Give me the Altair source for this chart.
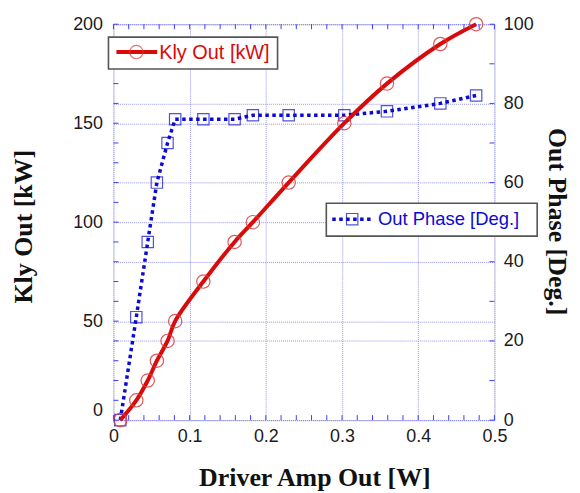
import altair as alt
import pandas as pd

# ---- data ----
drive_w = [0.009, 0.030, 0.045, 0.057, 0.071, 0.081, 0.118, 0.159, 0.183, 0.230, 0.303, 0.359, 0.429, 0.476]
kly_kw = [0, 10, 20, 30, 40, 50, 70, 90, 100, 120, 150, 170, 190, 200]
phase_deg = [0, 26, 45, 60, 70, 76, 76, 76, 77, 77, 77, 78, 80, 82]

x_labels = [0, 0.1, 0.2, 0.3, 0.4, 0.5]
kw_labels = [0, 50, 100, 150, 200]
deg_labels = [0, 20, 40, 60, 80, 100]
x_minor = [round(i * 0.02, 2) for i in range(26)]
kw_minor = list(range(0, 201, 10))
deg_minor = list(range(0, 101, 10))

legend_kly = ["Kly Out [kW]"]
legend_phase = ["Out Phase [Deg.]"]

RED = "#d80a0a"
RED_PT = "#e03a3a"
BLUE = "#0a0ad0"
AX = "#3c3cff"
GRID = "#8a8af0"
SANS = "Liberation Sans"
SERIF = "Liberation Serif"

kly_df = pd.DataFrame({"amp": drive_w, "kw": kly_kw})
ph_df = pd.DataFrame({"amp": drive_w, "phase": phase_deg})
xt_df = pd.DataFrame({"amp": x_minor})
kwt_df = pd.DataFrame({"kw": kw_minor})
degt_df = pd.DataFrame({"phase": deg_minor})
lk_df = pd.DataFrame({"label": legend_kly})
lp_df = pd.DataFrame({"label": legend_phase})

common_axis = dict(
    labelFont=SANS, labelFontSize=18, labelColor="#1a1a1a", labelFlush=False,
    titleFont=SERIF, titleFontSize=26, titleFontWeight="bold", titleColor="#111",
    ticks=False, tickSize=0, domain=False,
    grid=True, gridColor=GRID, gridDash=[1, 1], gridWidth=1, gridOpacity=0.9,
)

X = alt.X(
    "amp:Q",
    scale=alt.Scale(domain=[0, 0.5], nice=False, zero=False, padding=0),
    axis=alt.Axis(values=x_labels, format="~g", title="Driver Amp Out [W]",
                  labelPadding=8, titleX=202, titleY=66, titleAlign="center",
                  titleBaseline="alphabetic", **common_axis),
)
YK = alt.Y(
    "kw:Q",
    scale=alt.Scale(domain=[0, 200], nice=False, padding=0),
    axis=alt.Axis(orient="left", values=kw_labels, title="Kly Out [kW]",
                  labelPadding=11,
                  labelOffset={"condition": {"test": "datum.value === 0", "value": -10}, "value": 0},
                  titleX=-90, titleY=203, titleAlign="center", titleBaseline="middle",
                  titleAngle=270, **common_axis),
)
YP = alt.Y(
    "phase:Q",
    scale=alt.Scale(domain=[0, 100], nice=False, padding=0),
    axis=alt.Axis(orient="right", values=deg_labels, title="Out Phase [Deg.]",
                  labelPadding=9, titleX=62, titleY=198, titleAlign="center",
                  titleBaseline="middle", titleAngle=90, **common_axis),
)

# ---- Kly group (left axis) ----
kly_line = alt.Chart(kly_df).mark_line(color=RED, strokeWidth=4, interpolate="catmull-rom").encode(x=X, y=YK)
kly_pts = alt.Chart(kly_df).mark_point(shape="circle", size=180, filled=False, color=RED_PT,
                                       strokeWidth=1.2, opacity=0.85).encode(x=X, y=YK)
left_ticks = alt.Chart(kwt_df).mark_rule(color=AX, strokeWidth=1).encode(y=YK, x=alt.value(0), x2=alt.value(5))
top_ticks = alt.Chart(xt_df).mark_rule(color=AX, strokeWidth=1).encode(x=X, y=alt.value(0), y2=alt.value(5))
bot_ticks = alt.Chart(xt_df).mark_rule(color=AX, strokeWidth=1).encode(x=X, y=alt.value(393), y2=alt.value(398))
group_k = alt.layer(left_ticks, top_ticks, bot_ticks, kly_line, kly_pts)

# ---- Phase group (right axis) ----
ph_line = alt.Chart(ph_df).mark_line(color=BLUE, strokeWidth=3.5, strokeDash=[3.5, 3.5]).encode(x=X, y=YP)
ph_pts = alt.Chart(ph_df).mark_point(shape="square", size=130, filled=False, color=BLUE,
                                     strokeWidth=1.2).encode(x=X, y=YP)
right_ticks = alt.Chart(degt_df).mark_rule(color=AX, strokeWidth=1).encode(y=YP, x=alt.value(378), x2=alt.value(383))
group_p = alt.layer(right_ticks, ph_line, ph_pts)

# ---- legends ----
lk_box = alt.Chart(lk_df).mark_rect(fill="white", stroke="#555", strokeWidth=1.6).encode(
    x=alt.value(-5), x2=alt.value(165), y=alt.value(13), y2=alt.value(45))
lk_line = alt.Chart(lk_df).mark_rule(color=RED, strokeWidth=4).encode(
    x=alt.value(3), x2=alt.value(44), y=alt.value(28))
lk_pt = alt.Chart(lk_df).mark_point(shape="circle", size=180, filled=False, color=RED_PT, strokeWidth=1.2).encode(
    x=alt.value(23), y=alt.value(28))
lk_txt = alt.Chart(lk_df).mark_text(align="left", baseline="middle", font=SANS, fontSize=20, color=RED).encode(
    x=alt.value(46), y=alt.value(29), text="label:N")

lp_box = alt.Chart(lp_df).mark_rect(fill="white", stroke="#555", strokeWidth=1.6).encode(
    x=alt.value(214), x2=alt.value(426), y=alt.value(180), y2=alt.value(213))
lp_line = alt.Chart(lp_df).mark_rule(color=BLUE, strokeWidth=3.5, strokeDash=[3.5, 3.5]).encode(
    x=alt.value(220), x2=alt.value(261), y=alt.value(196))
lp_pt = alt.Chart(lp_df).mark_point(shape="square", size=130, filled=False, color=BLUE, strokeWidth=1.2).encode(
    x=alt.value(240), y=alt.value(196))
lp_txt = alt.Chart(lp_df).mark_text(align="left", baseline="middle", font=SANS, fontSize=18.5, color=BLUE).encode(
    x=alt.value(266), y=alt.value(196), text="label:N")

chart = alt.layer(
    group_p, group_k,
    lk_box, lk_line, lk_pt, lk_txt,
    lp_box, lp_line, lp_pt, lp_txt,
).resolve_scale(y="independent").properties(
    width=383, height=398,
    autosize=alt.AutoSizeParams(type="none"),
    padding={"left": 106, "top": 15, "right": 78, "bottom": 78},
).configure_view(stroke=AX, strokeWidth=1.5).configure(background="white")

chart.save("out.html", embed_options={"renderer": "svg", "actions": False})
